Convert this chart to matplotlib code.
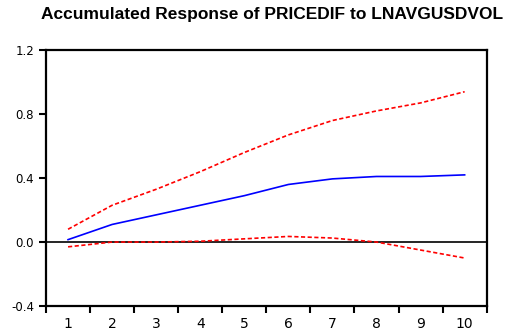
import numpy as np
import matplotlib
matplotlib.use("Agg")
import matplotlib.pyplot as plt

# accumulated response, with +/- 2 s.e. bands
periods = [1, 2, 3, 4, 5, 6, 7, 8, 9, 10]
response = [0.015, 0.11, 0.17, 0.23, 0.29, 0.36, 0.395, 0.41, 0.41, 0.42]
upper = [0.08, 0.23, 0.33, 0.44, 0.56, 0.67, 0.76, 0.82, 0.87, 0.94]
lower = [-0.03, 0.0, 0.0, 0.005, 0.02, 0.035, 0.025, 0.0, -0.05, -0.10]
yticks = [-0.4, 0.0, 0.4, 0.8, 1.2]
ylabels = ["-0.4", "0.0", "0.4", "0.8", "1.2"]

fig = plt.figure(figsize=(5.13, 3.31), dpi=100)
ax = fig.add_axes([0.0897, 0.0755, 0.859, 0.773])

ax.axhline(0, color="black", lw=1.2, zorder=1)
ax.plot(periods, upper, color="red", lw=1.2, ls=(0, (2.5, 1.5)), zorder=2)
ax.plot(periods, lower, color="red", lw=1.2, ls=(0, (2.5, 1.5)), zorder=2)
ax.plot(periods, response, color="blue", lw=1.2, zorder=3)

ax.set_xlim(0.5, 10.5)
ax.set_ylim(-0.4, 1.2)
ax.set_yticks(yticks)
ax.set_yticklabels(ylabels)

# ticks sit between periods, labels centred on each period
ax.set_xticks(np.arange(0.5, 11, 1))
ax.set_xticklabels([])
ax.set_xticks(periods, minor=True)
ax.set_xticklabels([str(p) for p in periods], minor=True)
ax.tick_params(axis="x", which="minor", length=0, pad=8)
ax.tick_params(axis="both", which="major", direction="out", length=5, width=1.5)
ax.tick_params(labelsize=8.5)

for s in ax.spines.values():
    s.set_linewidth(1.6)

fig.text(0.53, 0.957, "Accumulated Response of PRICEDIF to LNAVGUSDVOL",
         ha="center", va="center", fontsize=12.5, fontweight="bold",
         family="Liberation Sans")

fig.savefig("out.png", dpi=100)
